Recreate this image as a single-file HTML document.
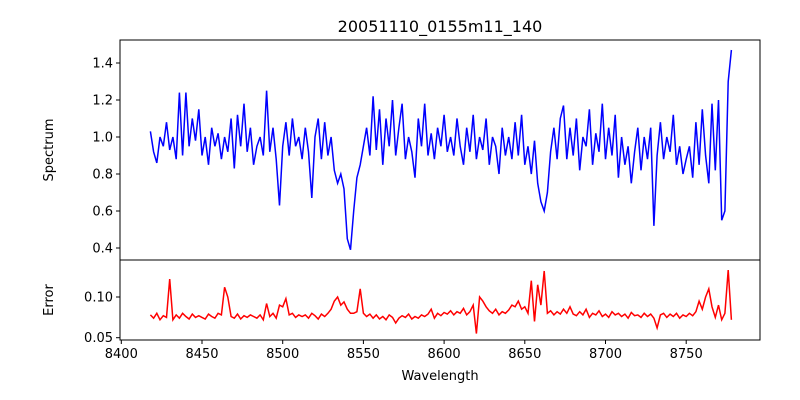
<!DOCTYPE html>
<html><head><meta charset="utf-8"><style>
body{margin:0;background:#fff;}
svg{display:block;font-family:"DejaVu Sans","Liberation Sans",sans-serif;}
</style></head><body>
<svg id="c" width="800" height="400">
<text x="440" y="32" font-size="16" text-anchor="middle">20051110_0155m11_140</text>
<text x="440" y="380" font-size="13" text-anchor="middle">Wavelength</text>
<text transform="translate(53,150) rotate(-90)" font-size="13" text-anchor="middle">Spectrum</text>
<text transform="translate(53,300) rotate(-90)" font-size="13" text-anchor="middle">Error</text>
<g id="g"></g>
</svg>
<script>
const wlStart = 8418, wlStep = 2;
const spectrum = [1.03,0.92,0.86,1.0,0.95,1.08,0.93,1.0,0.88,1.24,0.9,1.24,0.95,1.1,0.98,1.15,
0.9,1.0,0.85,1.05,0.95,1.02,0.88,1.0,0.92,1.1,0.83,1.12,0.95,1.18,0.92,1.05,
0.85,0.95,1.0,0.9,1.25,0.92,1.05,0.88,0.63,0.95,1.08,0.9,1.1,0.95,1.0,0.88,
1.05,0.92,0.67,1.0,1.1,0.88,1.08,0.9,1.0,0.82,0.75,0.8,0.72,0.45,0.39,0.6,
0.78,0.85,0.95,1.05,0.9,1.22,0.93,1.15,0.85,1.1,0.95,1.2,0.9,1.05,1.18,0.88,
1.0,0.92,0.78,1.1,0.95,1.18,0.9,1.02,0.88,1.05,0.95,1.12,0.92,1.0,0.9,1.1,
0.95,0.85,1.05,0.92,1.12,0.88,1.0,0.93,1.1,0.85,1.0,0.95,0.8,1.05,0.9,1.0,
0.88,1.08,0.9,1.12,0.85,0.95,0.8,0.98,0.75,0.65,0.6,0.7,0.92,1.05,0.88,1.1,
1.17,0.88,1.05,0.9,1.1,0.82,1.0,0.95,1.15,0.85,1.02,0.92,1.18,0.88,1.05,0.9,
1.12,0.78,1.0,0.85,0.95,0.75,0.92,1.05,0.82,1.0,0.88,1.05,0.52,0.9,1.08,0.88,
1.0,0.92,1.12,0.85,0.95,0.8,0.88,0.95,0.78,1.08,0.85,1.15,0.9,0.75,1.18,0.82,
1.2,0.55,0.6,1.3,1.47];
const errors = [0.078,0.074,0.08,0.072,0.077,0.075,0.122,0.072,0.078,0.074,0.08,0.076,0.073,0.079,0.075,0.077,
0.075,0.073,0.079,0.076,0.074,0.08,0.078,0.112,0.1,0.076,0.074,0.079,0.073,0.077,0.075,0.078,
0.076,0.074,0.078,0.072,0.092,0.076,0.08,0.074,0.09,0.088,0.098,0.078,0.08,0.075,0.078,0.076,
0.078,0.074,0.08,0.077,0.073,0.079,0.076,0.08,0.085,0.095,0.1,0.09,0.094,0.085,0.08,0.08,
0.082,0.11,0.08,0.076,0.079,0.074,0.078,0.073,0.076,0.072,0.078,0.075,0.068,0.074,0.077,0.075,
0.079,0.073,0.076,0.074,0.078,0.076,0.079,0.085,0.074,0.08,0.077,0.081,0.079,0.083,0.078,0.082,
0.08,0.086,0.078,0.082,0.09,0.055,0.1,0.095,0.088,0.083,0.08,0.085,0.078,0.082,0.08,0.084,
0.09,0.088,0.095,0.085,0.088,0.08,0.12,0.07,0.115,0.09,0.132,0.08,0.083,0.078,0.082,0.079,
0.085,0.08,0.088,0.079,0.077,0.082,0.078,0.085,0.075,0.08,0.078,0.083,0.076,0.079,0.075,0.082,
0.078,0.08,0.076,0.079,0.074,0.081,0.077,0.078,0.075,0.08,0.076,0.079,0.074,0.062,0.078,0.08,
0.075,0.079,0.076,0.08,0.074,0.078,0.076,0.08,0.077,0.082,0.095,0.085,0.1,0.11,0.088,0.075,
0.09,0.072,0.08,0.133,0.072];
const xTicks = [8400,8450,8500,8550,8600,8650,8700,8750];
const specTicks = [0.4,0.6,0.8,1.0,1.2,1.4];
const errTicks = [0.05,0.10];

const L=120,R=760,T1=40,B1=260,B2=340;
const xs = w => 121.3 + (w-8400)*1.614;
const ys = v => 63 + (1.4-v)*185;
const ye = v => 297 + (0.10-v)*814;
const g = document.getElementById('g');
const NS='http://www.w3.org/2000/svg';
function mk(tag, attrs){const e=document.createElementNS(NS,tag);for(const k in attrs)e.setAttribute(k,attrs[k]);g.appendChild(e);return e;}

let p1=spectrum.map((v,i)=>(i?'L':'M')+xs(wlStart+i*wlStep).toFixed(1)+','+ys(v).toFixed(1)).join('');
const s=mk('path',{d:p1,fill:'none',stroke:'#0000ff','stroke-width':1.5});


let p2=errors.map((v,i)=>(i?'L':'M')+xs(wlStart+i*wlStep).toFixed(1)+','+ye(v).toFixed(1)).join('');
const e2=mk('path',{d:p2,fill:'none',stroke:'#ff0000','stroke-width':1.5});



const f1=mk('rect',{x:L,y:T1,width:R-L,height:B1-T1,fill:'none',stroke:'#000','stroke-width':1});


const f2=mk('rect',{x:L,y:B1,width:R-L,height:B2-B1,fill:'none',stroke:'#000','stroke-width':1});



xTicks.forEach(t=>{const x=xs(t);
 mk('line',{x1:x,x2:x,y1:B2,y2:B2+4,stroke:'#000'});
 const tx=mk('text',{x:x,y:B2+18,'font-size':13,'text-anchor':'middle'});tx.textContent=t;
 
 
});
specTicks.forEach(t=>{const y=ys(t);
 mk('line',{x1:L-4,x2:L,y1:y,y2:y,stroke:'#000'});
 const tx=mk('text',{x:L-7,y:y+4.5,'font-size':13,'text-anchor':'end'});tx.textContent=t.toFixed(1);
 
 
});
errTicks.forEach(t=>{const y=ye(t);
 mk('line',{x1:L-4,x2:L,y1:y,y2:y,stroke:'#000'});
 const tx=mk('text',{x:L-7,y:y+4.5,'font-size':13,'text-anchor':'end'});tx.textContent=t.toFixed(2);
 
 
});
</script>
</body></html>
